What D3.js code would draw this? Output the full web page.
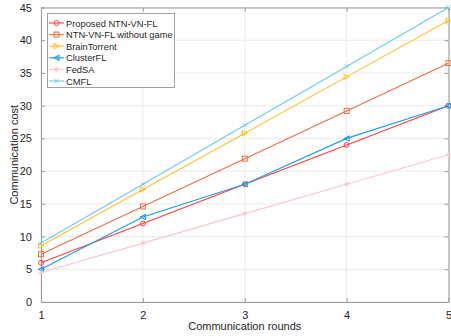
<!DOCTYPE html>
<html><head><meta charset="utf-8">
<script src="https://cdn.jsdelivr.net/npm/d3@7"></script>
<style>body{margin:0;background:#fff}svg{display:block;font-family:"Liberation Sans",Arial,sans-serif}</style>
</head><body><svg id="c" width="451" height="336"></svg>
<script>
const rounds = [1, 2, 3, 4, 5];
const proposed = [6, 12, 18, 24, 30];
const withoutGame = [7.3, 14.6, 21.9, 29.2, 36.5];
const brainTorrent = [8.6, 17.2, 25.8, 34.4, 43];
const clusterFL = [5, 13, 18, 25, 30];
const fedSA = [4.5, 9, 13.5, 18, 22.5];
const cmfl = [9, 18, 27, 36, 45];
const xTicks = [1, 2, 3, 4, 5];
const yTicks = [0, 5, 10, 15, 20, 25, 30, 35, 40, 45];

const series = [
  {name: "Proposed NTN-VN-FL", values: proposed, color: "#ff3c3c", marker: "circle"},
  {name: "NTN-VN-FL without game", values: withoutGame, color: "#eb6e44", marker: "square"},
  {name: "BrainTorrent", values: brainTorrent, color: "#ffc22e", marker: "triRight"},
  {name: "ClusterFL", values: clusterFL, color: "#1a9ef0", marker: "triLeft"},
  {name: "FedSA", values: fedSA, color: "#ffc4cc", marker: "star"},
  {name: "CMFL", values: cmfl, color: "#6ccbf0", marker: "x"}
];

const svg = d3.select("#c");
const L = 41, R = 448.5, T = 7.5, B = 302;
const x = d3.scaleLinear().domain([1, 5]).range([L, R]);
const y = d3.scaleLinear().domain([0, 45]).range([B, T]);

// grid
const g = svg.append("g");
g.selectAll(".gx").data(xTicks).join("line")
  .attr("x1", d => x(d)).attr("x2", d => x(d)).attr("y1", T).attr("y2", B)
  .attr("stroke", "#ebebeb").attr("stroke-width", 1);
g.selectAll(".gy").data(yTicks).join("line")
  .attr("x1", L).attr("x2", R).attr("y1", d => y(d)).attr("y2", d => y(d))
  .attr("stroke", "#ebebeb").attr("stroke-width", 1);

// axes
const axColor = "#9a9a9a";
const txtColor = "#262626";
function styleAxis(sel, showText) {
  sel.select(".domain").attr("stroke", axColor);
  sel.selectAll(".tick line").attr("stroke", axColor);
  sel.selectAll(".tick text").attr("fill", txtColor).attr("font-size", 11)
    .style("display", showText ? null : "none");
}
svg.append("g").attr("transform", `translate(0,${B})`)
  .call(d3.axisBottom(x).tickValues(xTicks).tickFormat(d3.format("d")).tickSizeInner(-4).tickSizeOuter(0).tickPadding(9))
  .call(s => styleAxis(s, true));
svg.append("g").attr("transform", `translate(0,${T})`)
  .call(d3.axisTop(x).tickValues(xTicks).tickSizeInner(-4).tickSizeOuter(0))
  .call(s => styleAxis(s, false));
svg.append("g").attr("transform", `translate(${L},0)`)
  .call(d3.axisLeft(y).tickValues(yTicks).tickSizeInner(-4).tickSizeOuter(0).tickPadding(9))
  .call(s => styleAxis(s, true));
svg.append("g").attr("transform", `translate(${R},0)`)
  .call(d3.axisRight(y).tickValues(yTicks).tickSizeInner(-4).tickSizeOuter(0))
  .call(s => styleAxis(s, false));

// axis labels
svg.append("text").attr("x", (L + R) / 2).attr("y", 330).attr("text-anchor", "middle")
  .attr("font-size", 11).attr("fill", txtColor).text("Communication rounds");
svg.append("text").attr("transform", `translate(18,${(T + B) / 2}) rotate(-90)`).attr("text-anchor", "middle")
  .attr("font-size", 11).attr("fill", txtColor).text("Communication cost");

// markers
function drawMarker(sel, type, color, cx, cy) {
  const s = 2.5;
  if (type === "circle") sel.append("circle").attr("cx", cx).attr("cy", cy).attr("r", s)
    .attr("fill", "none").attr("stroke", color).attr("stroke-width", 1);
  else if (type === "square") sel.append("rect").attr("x", cx - s).attr("y", cy - s).attr("width", 2 * s).attr("height", 2 * s)
    .attr("fill", "none").attr("stroke", color).attr("stroke-width", 1);
  else if (type === "triRight") sel.append("path").attr("d", `M${cx - s},${cy - s}L${cx + s},${cy}L${cx - s},${cy + s}Z`)
    .attr("fill", "none").attr("stroke", color).attr("stroke-width", 1.1);
  else if (type === "triLeft") sel.append("path").attr("d", `M${cx + s},${cy - s}L${cx - s},${cy}L${cx + s},${cy + s}Z`)
    .attr("fill", "none").attr("stroke", color).attr("stroke-width", 1.1);
  else if (type === "star") sel.append("path").attr("d",
    `M${cx - s},${cy}L${cx + s},${cy}M${cx},${cy - s}L${cx},${cy + s}M${cx - 1.8},${cy - 1.8}L${cx + 1.8},${cy + 1.8}M${cx - 1.8},${cy + 1.8}L${cx + 1.8},${cy - 1.8}`)
    .attr("stroke", color).attr("stroke-width", 1);
  else if (type === "x") sel.append("path").attr("d",
    `M${cx - 2},${cy - 2}L${cx + 2},${cy + 2}M${cx - 2},${cy + 2}L${cx + 2},${cy - 2}`)
    .attr("stroke", color).attr("stroke-width", 1);
}

const line = d3.line().x((d, i) => x(rounds[i])).y(d => y(d));
series.forEach(s => {
  const gs = svg.append("g");
  gs.append("path").datum(s.values).attr("d", line).attr("fill", "none")
    .attr("stroke", s.color).attr("stroke-width", 1.1);
  s.values.forEach((v, i) => drawMarker(gs, s.marker, s.color, x(rounds[i]), y(v)));
});

// legend
const lg = svg.append("g");
lg.append("rect").attr("x", 47.5).attr("y", 13.5).attr("width", 127).attr("height", 74)
  .attr("fill", "#fff").attr("stroke", "#a0a0a0").attr("stroke-width", 1);
series.forEach((s, i) => {
  const ly = 23 + i * 11.6;
  lg.append("line").attr("x1", 49).attr("x2", 64).attr("y1", ly).attr("y2", ly)
    .attr("stroke", s.color).attr("stroke-width", 1.1);
  drawMarker(lg, s.marker, s.color, 56.5, ly);
  lg.append("text").attr("x", 66).attr("y", ly + 3.5).attr("font-size", 9.3)
    .attr("fill", txtColor).text(s.name);
});
</script></body></html>
